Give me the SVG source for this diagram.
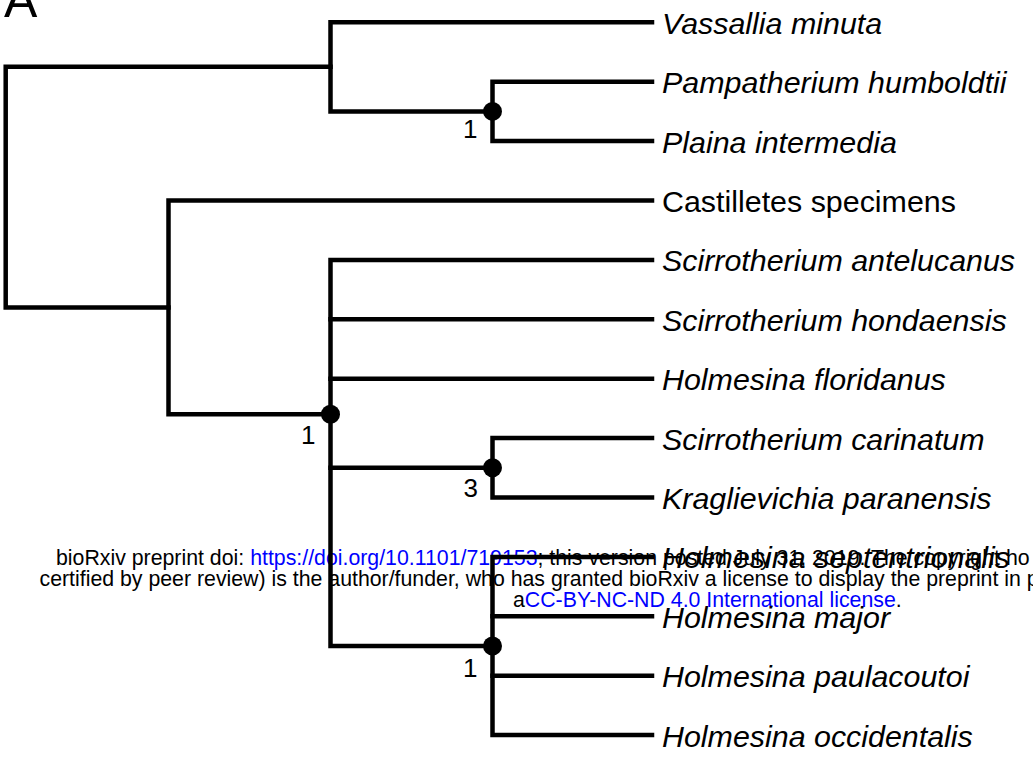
<svg xmlns="http://www.w3.org/2000/svg" width="1033" height="757" viewBox="0 0 1033 757">
<style>
.br{fill:none;stroke:#000;stroke-width:4.5;stroke-linecap:square;stroke-linejoin:miter}
.tip{font-family:"Liberation Sans",Arial,sans-serif;font-size:30.4px;font-style:italic;fill:#000}
.tipr{font-family:"Liberation Sans",Arial,sans-serif;font-size:30.4px;fill:#000}
.sup{font-family:"Liberation Sans",Arial,sans-serif;font-size:26px;fill:#000;text-anchor:end}
.dot{fill:#000}
.wm{font-family:"Liberation Sans",Arial,sans-serif;font-size:21.3px;fill:#000}
.lk{fill:#0000ff}
.panel{font-family:"Liberation Sans",Arial,sans-serif;font-size:50px;fill:#000}
</style>
<rect width="1033" height="757" fill="#fff"/>
<text class="panel" x="4" y="17">A</text>
<g id="watermark">
<text class="wm" x="56" y="565">bioRxiv preprint doi: <tspan class="lk">https://doi.org/10.1101/719153</tspan>; this version posted July 31, 2019. The copyright ho</text>
<text class="wm" x="39.5" y="586">certified by peer review) is the author/funder, who has granted bioRxiv a license to display the preprint in p</text>
<text class="wm" x="513" y="607">a<tspan class="lk">CC-BY-NC-ND 4.0 International license</tspan>.</text>
</g>
<g id="connectors">
<path class="br" d="M330.5 66.85 H5.7 V307.42 H168.5"/>
<path class="br" d="M652 22.3 H330.5 V111.4 H492.5"/>
<path class="br" d="M652 81.7 H492.5 V141.1 H652"/>
<path class="br" d="M652 200.5 H168.5 V414.34 H330.5"/>
<path class="br" d="M652 259.9 H330.5 V646 H492.5"/>
<path class="br" d="M330.5 319.3 H652"/>
<path class="br" d="M330.5 378.7 H652"/>
<path class="br" d="M330.5 467.8 H492.5"/>
<path class="br" d="M652 438.1 H492.5 V497.5 H652"/>
<path class="br" d="M652 556.9 H492.5 V735.1 H652"/>
<path class="br" d="M492.5 616.3 H652"/>
<path class="br" d="M492.5 675.7 H652"/>
</g>
<g id="node-pamp-plaina">
<circle class="dot" cx="492.5" cy="111.4" r="9.5"/>
<text class="sup" x="477.5" y="138">1</text>
</g>
<g id="node-scirro-holmesina">
<circle class="dot" cx="330.5" cy="414.34" r="9.5"/>
<text class="sup" x="315.5" y="443.5">1</text>
</g>
<g id="node-carinatum-kraglievichia">
<circle class="dot" cx="492.5" cy="467.8" r="9.5"/>
<text class="sup" x="478" y="497">3</text>
</g>
<g id="node-holmesina">
<circle class="dot" cx="492.5" cy="646" r="9.5"/>
<text class="sup" x="477.5" y="677">1</text>
</g>
<g id="tip-vassallia"><text class="tip" x="662" y="33.8">Vassallia minuta</text></g>
<g id="tip-pampatherium"><text class="tip" x="662" y="93.2">Pampatherium humboldtii</text></g>
<g id="tip-plaina"><text class="tip" x="662" y="152.6">Plaina intermedia</text></g>
<g id="tip-castilletes"><text class="tipr" x="662" y="212">Castilletes specimens</text></g>
<g id="tip-antelucanus"><text class="tip" x="662" y="271.4">Scirrotherium antelucanus</text></g>
<g id="tip-hondaensis"><text class="tip" x="662" y="330.8">Scirrotherium hondaensis</text></g>
<g id="tip-floridanus"><text class="tip" x="662" y="390.2">Holmesina floridanus</text></g>
<g id="tip-carinatum"><text class="tip" x="662" y="449.6">Scirrotherium carinatum</text></g>
<g id="tip-kraglievichia"><text class="tip" x="662" y="509">Kraglievichia paranensis</text></g>
<g id="tip-septentrionalis"><text class="tip" x="662" y="568.4">Holmesina septentrionalis</text></g>
<g id="tip-major"><text class="tip" x="662" y="627.8">Holmesina major</text></g>
<g id="tip-paulacoutoi"><text class="tip" x="662" y="687.2">Holmesina paulacoutoi</text></g>
<g id="tip-occidentalis"><text class="tip" x="662" y="746.6">Holmesina occidentalis</text></g>
</svg>
